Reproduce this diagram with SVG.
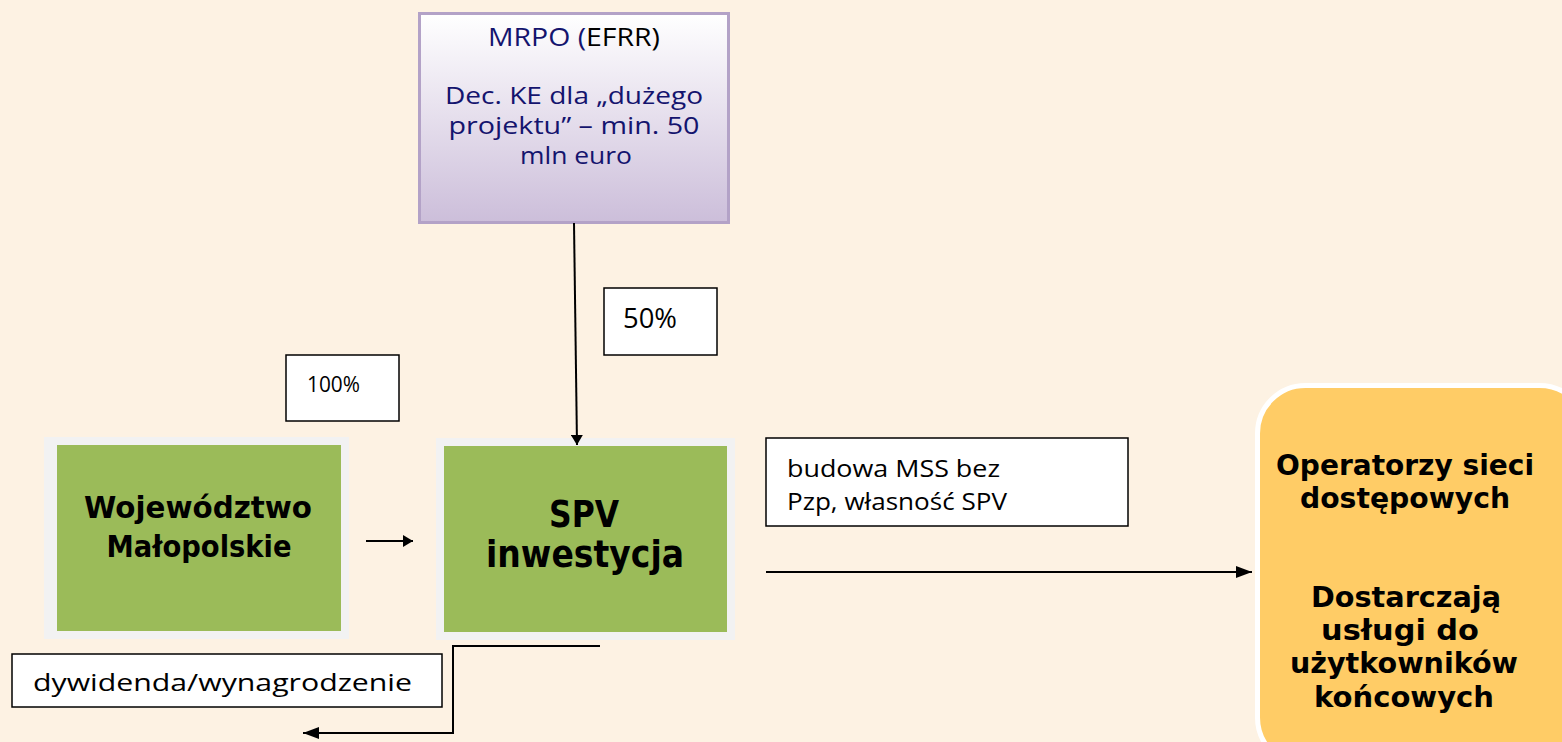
<svg xmlns="http://www.w3.org/2000/svg" width="1562" height="742" viewBox="0 0 1562 742">
<defs>
<linearGradient id="gp" x1="0" y1="0" x2="0" y2="1">
<stop offset="0" stop-color="#FFFFFF"/>
<stop offset="1" stop-color="#CCBEDA"/>
</linearGradient>
<marker id="ah" viewBox="0 0 10 12" refX="10" refY="6" markerWidth="10" markerHeight="12" markerUnits="userSpaceOnUse" orient="auto">
<path d="M0,0 L10,6 L0,12 z" fill="#000"/>
</marker>
<marker id="ahl" viewBox="0 0 16 12" refX="16" refY="6" markerWidth="16" markerHeight="12" markerUnits="userSpaceOnUse" orient="auto">
<path d="M0,0 L16,6 L0,12 z" fill="#000"/>
</marker>
<style>
.lbl{fill:#fff;stroke:#000;stroke-width:1.5}
.t{font-family:"Open Sans","Liberation Sans",sans-serif;fill:#000}
.n{fill:#14146E}
.b{font-family:"DejaVu Sans","Liberation Sans",sans-serif;font-weight:bold;fill:#000}
.gr{fill:#9BBB59}
.gro{fill:#F2F2F2}
.c{fill:none;stroke:#000;stroke-width:2}
</style>
</defs>
<rect width="1562" height="742" fill="#FDF2E3"/>

<g id="mrpo">
<rect x="419.5" y="13.5" width="309" height="209" fill="url(#gp)" stroke="#B3A2C7" stroke-width="3"/>
<text class="t" x="574" y="46" font-size="26" text-anchor="middle" textLength="172" lengthAdjust="spacingAndGlyphs"><tspan class="n">MRPO (</tspan><tspan>EFRR)</tspan></text>
<text class="t n" x="574" y="104" font-size="24" text-anchor="middle" textLength="258" lengthAdjust="spacingAndGlyphs">Dec. KE dla „dużego</text>
<text class="t n" x="574" y="134" font-size="24" text-anchor="middle" textLength="251" lengthAdjust="spacingAndGlyphs">projektu” – min. 50</text>
<text class="t n" x="576" y="164" font-size="24" text-anchor="middle" textLength="112" lengthAdjust="spacingAndGlyphs">mln euro</text>
</g>

<g id="woj">
<rect class="gro" x="44" y="437" width="305" height="202"/>
<rect class="gr" x="57" y="445" width="284" height="186"/>
<text class="b" x="198" y="518" font-size="31" text-anchor="middle" textLength="228" lengthAdjust="spacingAndGlyphs">Województwo</text>
<text class="b" x="199" y="557" font-size="31" text-anchor="middle" textLength="185" lengthAdjust="spacingAndGlyphs">Małopolskie</text>
</g>

<g id="spv">
<rect class="gro" x="436" y="438" width="299" height="202"/>
<rect class="gr" x="444" y="446" width="283" height="186"/>
<text class="b" x="584" y="527" font-size="38" text-anchor="middle" textLength="70" lengthAdjust="spacingAndGlyphs">SPV</text>
<text class="b" x="585" y="567" font-size="38" text-anchor="middle" textLength="198" lengthAdjust="spacingAndGlyphs">inwestycja</text>
</g>

<g id="operatorzy">
<rect x="1257.5" y="385.5" width="330" height="380" rx="48" ry="48" fill="#FFCC66" stroke="#FFFFFF" stroke-width="5"/>
<g class="b" font-size="28" text-anchor="middle">
<text x="1405" y="475" textLength="258" lengthAdjust="spacingAndGlyphs">Operatorzy sieci</text>
<text x="1405" y="508" textLength="210" lengthAdjust="spacingAndGlyphs">dostępowych</text>
<text x="1406" y="607" textLength="190" lengthAdjust="spacingAndGlyphs">Dostarczają</text>
<text x="1400" y="640" textLength="158" lengthAdjust="spacingAndGlyphs">usługi do</text>
<text x="1404" y="673" textLength="228" lengthAdjust="spacingAndGlyphs">użytkowników</text>
<text x="1404" y="707" textLength="180" lengthAdjust="spacingAndGlyphs">końcowych</text>
</g>
</g>

<g id="lbl50">
<rect class="lbl" x="604" y="288" width="113" height="67"/>
<text class="t" x="623" y="328" font-size="27" textLength="54" lengthAdjust="spacingAndGlyphs">50%</text>
</g>
<g id="lbl100">
<rect class="lbl" x="286" y="355" width="113" height="66"/>
<text class="t" x="307" y="392" font-size="21" textLength="53" lengthAdjust="spacingAndGlyphs">100%</text>
</g>
<g id="lblbudowa">
<rect class="lbl" x="766" y="438" width="362" height="88"/>
<text class="t" x="787" y="477" font-size="23" textLength="213" lengthAdjust="spacingAndGlyphs">budowa MSS bez</text>
<text class="t" x="787" y="510" font-size="23" textLength="220" lengthAdjust="spacingAndGlyphs">Pzp, własność  SPV</text>
</g>
<g id="lbldyw">
<rect class="lbl" x="12" y="654" width="430" height="53"/>
<text class="t" x="33" y="691" font-size="24" textLength="379" lengthAdjust="spacingAndGlyphs">dywidenda/wynagrodzenie</text>
</g>

<g id="connectors">
<line class="c" x1="574" y1="223" x2="577" y2="445" marker-end="url(#ah)"/>
<line class="c" x1="366" y1="541" x2="413" y2="541" marker-end="url(#ah)"/>
<line class="c" x1="766" y1="572" x2="1252" y2="572" marker-end="url(#ahl)"/>
<polyline class="c" points="600,646 453,646 453,733 303,733" marker-end="url(#ahl)"/>
</g>
</svg>
